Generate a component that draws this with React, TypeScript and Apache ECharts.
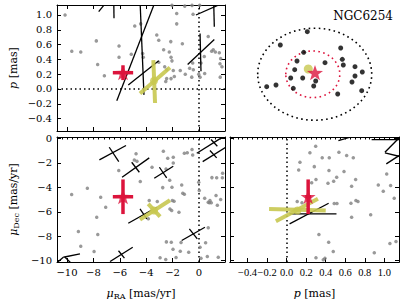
import React, { useEffect, useRef } from 'react';
import * as echarts from 'echarts';

const FONT = 'DejaVu Serif';
const NARROW = 'Liberation Serif';

// tick values
const muRaTicks = [-10, -8, -6, -4, -2, 0];
const muDecTicks = [0, -2, -4, -6, -8, -10];
const plxTicks = [-0.4, -0.2, 0, 0.2, 0.4, 0.6, 0.8, 1.0];
const plxLabelsA = [-0.4, 0, 0.4, 0.8];
const plxLabelsB = [-0.2, 0.2, 0.6, 1.0];

// axis ranges
const muRaRange = [-10.76, 1.97];
const plxRangeY = [-0.568, 1.135];
const plxRangeX = [-0.58, 1.15];
const muDecRange = [-10.12, 0.13];

// gray field stars: [muRA, parallax]
const grayMuRaPlx = [
  [-10.15, 1.0], [-9.64, 0.51], [-8.96, 0.5], [-7.78, 0.65], [-7.68, 0.33], [-7.17, 0.18],
  [-6.06, 0.58], [-6.06, 0.43], [-4.87, 0.85], [-4.42, 0.88], [-5.13, 0.47], [-4.27, 0.48],
  [-4.22, 0.43], [-3.2, 0.73], [-3.05, 0.66], [-2.14, 0.64], [-1.69, 1.02], [-1.69, 0.88],
  [-1.26, 0.61], [-2.68, 0.53], [-2.25, 0.5], [-2.12, 0.43], [-2.05, 0.38], [-3.05, 0.36],
  [-2.6, 0.3], [-2.45, 0.26], [-1.95, 0.25], [-1.42, 0.25], [-1.04, 0.2], [-0.71, 0.28],
  [-0.48, 0.35], [-0.43, 0.26], [-1.87, 0.17], [-2.45, 0.14], [-2.12, 0.14], [-2.52, 0.1],
  [-0.55, 0.16], [-0.02, 0.2], [0.08, 0.16], [0.15, 0.35], [0.4, 0.44], [0.7, 0.71],
  [0.96, 0.51], [1.24, 0.5], [1.54, 0.49], [1.64, 0.41], [1.59, 0.34], [1.74, 0.3],
  [1.61, 0.16], [0.43, 0.21], [-0.53, 1.13], [0.05, 1.13], [-2.05, 1.13], [-1.08, 1.12],
  [-0.45, 1.01], [1.08, 0.53],
];

// gray field stars: [muRA, muDec]
const grayMuRaMuDec = [
  [-9.65, -4.59], [-8.46, -4.07], [-7.45, -4.81], [-7.07, -5.63], [-7.75, -6.45], [-7.67, -7.87],
  [-9.14, -7.62], [-8.96, -8.83], [-7.95, -9.26], [-6.08, -2.62], [-4.9, -1.75], [-4.7, -1.86],
  [-4.77, -1.25], [-4.45, -3.52], [-3.56, -2.35], [-2.7, -1.04], [-2.37, -1.61], [-1.95, -1.53],
  [-1.95, -2.0], [-2.5, -2.49], [-2.22, -3.42], [-2.05, -3.99], [-2.75, -4.02], [-1.31, -3.8],
  [-1.11, -1.2], [-0.89, -1.17], [-0.53, -0.9], [-0.48, -1.34], [-1.11, -4.56], [-1.23, -4.48],
  [-0.02, -3.58], [0.02, -4.26], [0.43, -4.89], [0.78, -5.27], [0.93, -5.27], [1.29, -4.67],
  [1.39, -5.46], [1.64, -5.0], [0.98, -3.2], [1.34, -3.22], [1.79, -2.84], [1.77, -3.22],
  [-2.47, -8.47], [-2.1, -8.5], [-1.97, -9.07], [-1.42, -9.24], [-0.78, -9.32], [-1.36, -8.52],
  [-1.74, -9.75], [-2.95, -9.78], [-2.52, -9.92], [0.15, -9.81], [0.63, -9.67], [1.46, -9.73],
  [-1.52, -6.04], [-3.77, -5.08], [-3.16, -5.16], [-2.02, -5.08], [-2.2, -5.77], [-2.07, -5.9],
  [-1.89, -5.14], [-3.84, -6.58], [0.7, -5.22], [0.83, -5.08], [0.7, -7.32], [0.08, -8.91],
  [0.5, -8.55],
];

// gray field stars: [parallax, muDec]
const grayPlxMuDec = [
  [0.297, -0.63], [0.238, -1.17], [0.364, -1.58], [0.436, -1.58], [0.535, -1.12], [0.614, -1.39],
  [0.682, -1.58], [0.136, -1.94], [0.123, -2.57], [0.283, -2.3], [0.433, -2.62], [0.512, -3.17],
  [0.587, -2.7], [0.481, -3.5], [0.423, -3.66], [0.3, -3.36], [0.256, -3.63], [0.706, -3.36],
  [0.665, -3.91], [0.709, -5.08], [0.73, -5.16], [0.658, -5.3], [0.487, -5.33], [0.515, -5.33],
  [0.938, -3.8], [0.989, -4.32], [1.024, -2.9], [1.064, -3.85], [1.101, -4.89], [0.108, -5.16],
  [0.157, -5.27], [0.665, -6.45], [0.86, -6.25], [0.33, -7.87], [0.43, -8.5], [0.477, -9.26],
  [1.057, -8.61], [1.119, -8.44], [0.897, -9.37], [0.392, -9.81], [0.3, -9.78], [0.375, -9.94],
];

// black member-star error segments [x1, y1, x2, y2]
const blackSegsTL = [
  [-6.23, -0.158, -3.3, 1.19], [-4.47, 1.2, -4.17, -0.08], [-5.36, 0.054, -3.05, 0.38],
  [-0.86, 0.33, 1.16, 0.67], [0.08, 0.75, 0.15, 0.24], [-0.23, 1.0, 1.8, 1.16],
  [1.11, 1.2, 1.16, 0.84], [-7.6, 1.045, -6.9, 1.2], [-6.46, 1.2, -6.44, 0.955],
];
const blackSegsBL = [
  [-7.55, -1.75, -5.53, -0.57], [-6.8, -0.71, -6.08, -1.89],
  [-5.83, -3.17, -3.77, -1.58], [-5.1, -1.94, -4.52, -2.76],
  [-3.39, -3.25, -1.95, -2.27], [-3.0, -2.35, -2.45, -3.22],
  [-5.36, -6.94, -3.2, -5.63], [-4.47, -5.76, -3.96, -6.58],
  [-1.31, -8.36, 0.45, -7.27], [-0.73, -7.4, -0.13, -8.22],
  [-6.74, -10.08, -5.02, -8.91], [-6.1, -9.2, -5.65, -9.8],
  [-10.28, -9.73, -9.02, -9.45], [-10.15, -9.73, -9.64, -10.27],
  [-10.9, -10.3, -10.28, -9.73],
  [-0.17, -1.2, 1.6, 0.0], [0.91, -0.08, 1.39, -0.63],
  [0.28, -1.89, 2.14, -0.63], [0.83, -0.98, 1.34, -1.58],
];
const blackSegsBR = [
  [0.03, -6.17, 0.51, -6.17], [0.03, -6.99, 0.43, -5.3],
  [0.53, -0.16, 0.65, 0.11], [0.87, -0.08, 1.2, -0.08],
  [1.006, -1.12, 1.15, 0.05], [1.02, -2.07, 1.15, -1.4], [1.006, -1.17, 1.15, -1.45],
];

// yellow source
const yellowMuRa = -3.41;
const yellowMuDec = -5.9;
const yellowPlx = 0.11;
const yellowSegsTL = [[-3.46, 0.39, -3.33, -0.19], [-4.47, -0.06, -2.2, 0.29]];
const yellowSegsBL = [[-4.47, -6.64, -2.2, -5.06], [-3.85, -5.35, -2.95, -6.4]];
const yellowSegsBR = [[-0.18, -5.77, 0.4, -5.9], [-0.11, -6.78, 0.32, -4.94]];

// red cluster mean
const redMuRa = -5.76;
const redMuRaErr = 0.77;
const redMuDec = -4.77;
const redMuDecErr = 1.42;
const redPlx = 0.22;
const redPlxErr = 0.1;

// sky panel (arcmin-like offsets)
const skyStars = [
  [-0.74, 4.25], [-3.44, 2.92], [-1.1, 2.19], [2.6, 2.62], [-1.77, 1.32], [1.03, 1.15],
  [2.76, 1.49], [2.86, 0.92], [-2.0, 0.45], [4.03, 0.75], [4.76, 0.22], [-2.4, -0.38],
  [-1.2, -0.38], [0.1, -0.68], [4.03, -0.18], [3.73, -0.78], [-3.87, -1.08], [-4.8, -1.25],
  [-0.1, -1.18], [-2.14, -1.41], [4.7, -1.65], [2.3, -1.98],
];
const skyYellow = [-0.64, 0.52];
const skyRed = [0.03, 0.15];
const tidalEllipse = [0, 0, 5.7, 4.6];
const coreEllipse = [-0.19, -0.01, 2.7, 2.33];
const skyX = [-8.47, 8.43];
const skyY = [-5.68, 6.92];

const RED = '#dc143c';
const YEL = '#c8c850';
const STAR = 'path://M0,-10L2.35,-3.24L9.51,-3.09L3.8,1.24L5.88,8.09L0,4L-5.88,8.09L-3.8,1.24L-9.51,-3.09L-2.35,-3.24Z';

const fmt = (dec: number) => (v: number) => {
  const n = parseFloat(Number(v).toFixed(dec));
  if (n === 0) return (0).toFixed(dec);
  return n < 0 ? '\u2212' + Math.abs(n).toFixed(dec) : n.toFixed(dec);
};

const steps = (a: number, b: number, s: number) => {
  const out: number[] = [];
  const n = Math.round((b - a) / s);
  for (let i = 0; i <= n; i++) out.push(parseFloat((a + i * s).toFixed(4)));
  return out;
};

const nameStyle = {
  fontFamily: FONT,
  fontSize: 11,
  color: '#000',
  lineHeight: 14,
  rich: {
    i: { fontFamily: FONT, fontStyle: 'italic', fontSize: 11, lineHeight: 14, color: '#000' },
    s: { fontFamily: FONT, fontSize: 8, lineHeight: 8, verticalAlign: 'bottom', color: '#000' },
  },
};

function axis(gridIndex: number, position: string, range: number[], ticks: number[], labels: number[] | null, dec: number, tickLen = 4, extra: any = {}, labelFont = FONT, labelSize = 10) {
  return {
    type: 'value',
    gridIndex,
    position,
    min: range[0],
    max: range[1],
    splitLine: { show: false },
    axisLine: { show: true, onZero: false, lineStyle: { color: '#000', width: 1 } },
    axisTick: { show: true, inside: true, length: tickLen, customValues: ticks, lineStyle: { color: '#000', width: 1 } },
    axisLabel: {
      show: !!labels, customValues: labels || ticks, formatter: fmt(dec), fontFamily: labelFont, fontSize: labelSize,
      color: '#000', margin: 5, hideOverlap: false, showMinLabel: true, showMaxLabel: true,
    },
    ...extra,
  };
}

function hiddenAxis(gridIndex: number, range: number[]) {
  return { type: 'value', gridIndex, min: range[0], max: range[1], show: false, splitLine: { show: false } };
}

function segSeries(xi: number, yi: number, segs: number[][], color: string, width: number, opacity = 1, z = 3) {
  return {
    type: 'custom', xAxisIndex: xi, yAxisIndex: yi, clip: true, z, silent: true,
    encode: { x: [0, 2], y: [1, 3] },
    data: segs,
    renderItem: (_p: any, api: any) => {
      const a = api.coord([api.value(0), api.value(1)]);
      const b = api.coord([api.value(2), api.value(3)]);
      return {
        type: 'line',
        shape: { x1: a[0], y1: a[1], x2: b[0], y2: b[1] },
        style: { stroke: color, lineWidth: width, opacity, lineCap: 'butt' },
      };
    },
  };
}

function ellipseSeries(xi: number, yi: number, e: number[], color: string) {
  return {
    type: 'custom', xAxisIndex: xi, yAxisIndex: yi, silent: true, z: 2,
    data: [e],
    renderItem: (_p: any, api: any) => {
      const c = api.coord([api.value(0), api.value(1)]);
      const s = api.size([api.value(2), api.value(3)]);
      return {
        type: 'ellipse',
        shape: { cx: c[0], cy: c[1], rx: s[0], ry: s[1] },
        style: { fill: 'none', stroke: color, lineWidth: 1.6, lineDash: [1.6, 3.4] },
      };
    },
  };
}

const dotted = { color: '#000', width: 1.5, type: [1.5, 3] };

function grayScatter(xi: number, yi: number, data: number[][], lines: any[]) {
  return {
    type: 'scatter', xAxisIndex: xi, yAxisIndex: yi, data, symbol: 'circle', symbolSize: 3.5,
    itemStyle: { color: '#7f7f7f' }, silent: true, z: 2,
    markLine: { silent: true, symbol: 'none', label: { show: false }, lineStyle: dotted, data: lines, z: 1 },
  };
}

function errSegs(x: number, ex: number, y: number, ey: number) {
  return [[x - ex, y, x + ex, y], [x, y - ey, x, y + ey]];
}

export default function App() {
  const ref = useRef<HTMLDivElement>(null);
  useEffect(() => {
    document.body.style.margin = '0';
    const chart = echarts.init(ref.current!, null, { renderer: 'svg' });
    const option: any = {
      animation: false,
      title: {
        text: 'NGC6254', right: 14, top: 10, padding: 0,
        textStyle: { fontFamily: FONT, fontWeight: 'normal', fontSize: 12, color: '#000' },
      },
      grid: [
        { left: 57, top: 5, width: 168, height: 126 },
        { left: 230, top: 5, width: 169, height: 126 },
        { left: 57, top: 137, width: 168, height: 125 },
        { left: 230, top: 137, width: 169, height: 125 },
      ],
      xAxis: [
        axis(0, 'bottom', muRaRange, muRaTicks, null, 0),
        axis(0, 'top', muRaRange, muRaTicks, null, 0),
        hiddenAxis(1, skyX),
        axis(2, 'bottom', muRaRange, muRaTicks, muRaTicks, 0, 4, {
          name: '{i|\u03bc}{s|RA} [mas/yr]', nameLocation: 'middle', nameGap: 24, nameTextStyle: nameStyle,
        }),
        axis(2, 'top', muRaRange, steps(-10.8, 2.0, 0.4), null, 0, 2.5),
        axis(3, 'bottom', plxRangeX, plxTicks, plxLabelsA, 1, 4, {
          name: '{i|p} [mas]', nameLocation: 'middle', nameGap: 24, nameTextStyle: nameStyle,
        }, NARROW, 10.5),
        axis(3, 'top', plxRangeX, steps(-0.55, 1.15, 0.05), null, 1, 2.5),
        axis(3, 'bottom', plxRangeX, plxTicks, plxLabelsB, 1, 4, {}, NARROW, 10.5),
      ],
      yAxis: [
        axis(0, 'left', plxRangeY, plxTicks, plxTicks, 1, 4, {
          name: '{i|p} [mas]', nameLocation: 'middle', nameGap: 37, nameTextStyle: nameStyle,
        }),
        axis(0, 'right', plxRangeY, plxTicks, null, 1),
        hiddenAxis(1, skyY),
        axis(2, 'left', muDecRange, muDecTicks, muDecTicks, 0, 4, {
          name: '{i|\u03bc}{s|Dec} [mas/yr]', nameLocation: 'middle', nameGap: 37, nameTextStyle: nameStyle,
        }),
        axis(2, 'right', muDecRange, muDecTicks, null, 0),
        axis(3, 'left', muDecRange, muDecTicks, null, 0),
        axis(3, 'right', muDecRange, muDecTicks, null, 0),
      ],
      series: [
        // top-left: muRA vs parallax
        grayScatter(0, 0, grayMuRaPlx, [{ xAxis: 0 }, { yAxis: 0 }]),
        segSeries(0, 0, blackSegsTL, '#000', 1.3),
        segSeries(0, 0, yellowSegsTL, YEL, 4, 0.9, 4),
        { type: 'scatter', xAxisIndex: 0, yAxisIndex: 0, data: [[yellowMuRa, yellowPlx]], symbol: 'circle', symbolSize: 8, itemStyle: { color: YEL }, z: 4, silent: true },
        segSeries(0, 0, errSegs(redMuRa, redMuRaErr, redPlx, redPlxErr), RED, 3.5, 1, 5),
        { type: 'scatter', xAxisIndex: 0, yAxisIndex: 0, data: [[redMuRa, redPlx]], symbol: STAR, symbolKeepAspect: true, symbolSize: 16, itemStyle: { color: RED }, z: 6, silent: true },

        // top-right: sky
        ellipseSeries(2, 2, tidalEllipse, '#000'),
        ellipseSeries(2, 2, coreEllipse, RED),
        { type: 'scatter', xAxisIndex: 2, yAxisIndex: 2, data: skyStars, symbol: 'circle', symbolSize: 5, itemStyle: { color: '#000' }, z: 3, silent: true },
        { type: 'scatter', xAxisIndex: 2, yAxisIndex: 2, data: [skyYellow], symbol: 'circle', symbolSize: 9, itemStyle: { color: YEL }, z: 4, silent: true },
        { type: 'scatter', xAxisIndex: 2, yAxisIndex: 2, data: [skyRed], symbol: STAR, symbolKeepAspect: true, symbolSize: 16, itemStyle: { color: RED }, z: 5, silent: true },

        // bottom-left: muRA vs muDec
        grayScatter(3, 3, grayMuRaMuDec, [{ xAxis: 0 }]),
        segSeries(3, 3, blackSegsBL, '#000', 1.3),
        segSeries(3, 3, yellowSegsBL, YEL, 4, 0.9, 4),
        { type: 'scatter', xAxisIndex: 3, yAxisIndex: 3, data: [[yellowMuRa, yellowMuDec]], symbol: 'circle', symbolSize: 8, itemStyle: { color: YEL }, z: 4, silent: true },
        segSeries(3, 3, errSegs(redMuRa, redMuRaErr, redMuDec, redMuDecErr), RED, 3.5, 1, 5),
        { type: 'scatter', xAxisIndex: 3, yAxisIndex: 3, data: [[redMuRa, redMuDec]], symbol: STAR, symbolKeepAspect: true, symbolSize: 16, itemStyle: { color: RED }, z: 6, silent: true },

        // bottom-right: parallax vs muDec
        grayScatter(5, 5, grayPlxMuDec, [{ xAxis: 0 }]),
        segSeries(5, 5, blackSegsBR, '#000', 1.3),
        segSeries(5, 5, yellowSegsBR, YEL, 4, 0.9, 4),
        { type: 'scatter', xAxisIndex: 5, yAxisIndex: 5, data: [[yellowPlx, yellowMuDec]], symbol: 'circle', symbolSize: 8, itemStyle: { color: YEL }, z: 4, silent: true },
        segSeries(5, 5, errSegs(redPlx, redPlxErr * 0.3, redMuDec, redMuDecErr), RED, 3.5, 1, 5),
        { type: 'scatter', xAxisIndex: 5, yAxisIndex: 5, data: [[redPlx, redMuDec]], symbol: STAR, symbolKeepAspect: true, symbolSize: 15, itemStyle: { color: RED }, z: 6, silent: true },
      ],
    };
    chart.setOption(option);
    return () => chart.dispose();
  }, []);
  return <div ref={ref} style={{ width: 407, height: 305 }} />;
}
